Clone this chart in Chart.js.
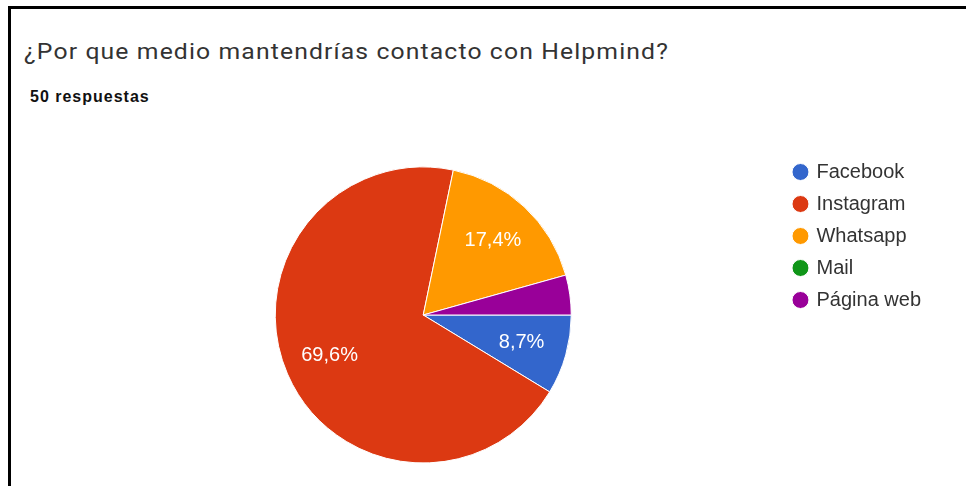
<!DOCTYPE html>
<html>
<head>
<meta charset="utf-8">
<script src="https://cdn.jsdelivr.net/npm/chart.js@4/dist/chart.umd.min.js"></script>
<style>
  html, body { margin: 0; padding: 0; background: #fff; }
  body { width: 966px; height: 486px; position: relative; overflow: hidden; }
  #frame { position: absolute; left: 8px; top: 6px; width: 990px; height: 520px; border-left: 3px solid #000; border-top: 3px solid #000; }
  #title { position: absolute; left: 24px; top: 39px; font-family: Roboto, "Open Sans", sans-serif; font-size: 22px; letter-spacing: 1px; color: #333; white-space: nowrap; transform: scaleX(1.124); transform-origin: left top; }
  #subtitle { position: absolute; left: 30px; top: 88px; font-family: "Liberation Sans", Arial, sans-serif; font-weight: bold; font-size: 16px; letter-spacing: 1px; color: #111; white-space: nowrap; }
  #wrap { position: absolute; left: 0; top: 0; width: 966px; height: 486px; }
</style>
</head>
<body>
<div id="frame"></div>
<div id="title">¿Por que medio mantendrías contacto con Helpmind?</div>
<div id="subtitle">50 respuestas</div>
<div id="wrap"><canvas id="pie"></canvas></div>
<script>
// datos del gráfico (respuestas por medio)
const categories = ['Facebook', 'Instagram', 'Whatsapp', 'Mail', 'Página web'];
const votes = [4, 32, 8, 0, 2];
const colors = ['#3366cc', '#dc3912', '#ff9900', '#109618', '#990099'];

// etiquetas de porcentaje dentro de cada porción
const percentLabels = {
    id: 'percentLabels',
    afterDatasetsDraw(chart) {
        const ctx = chart.ctx;
        const meta = chart.getDatasetMeta(0);
        const total = votes.reduce((a, b) => a + b, 0);
        ctx.save();
        ctx.fillStyle = '#fff';
        ctx.font = '20px "Liberation Sans", Arial, sans-serif';
        ctx.textAlign = 'center';
        ctx.textBaseline = 'middle';
        meta.data.forEach((arc, i) => {
            const pct = votes[i] / total * 100;
            if (pct < 5) return;
            const mid = (arc.startAngle + arc.endAngle) / 2;
            const r = arc.outerRadius * 0.69;
            const txt = pct.toFixed(1).replace('.', ',') + '%';
            ctx.fillText(txt, arc.x + Math.cos(mid) * r, arc.y + Math.sin(mid) * r);
        });
        ctx.restore();
    }
};

new Chart(document.getElementById('pie'), {
    type: 'pie',
    data: {
        labels: categories,
        datasets: [{
            data: votes,
            backgroundColor: colors,
            borderColor: '#fff',
            borderWidth: 1
        }]
    },
    plugins: [percentLabels],
    options: {
        responsive: true,
        maintainAspectRatio: false,
        animation: false,
        events: [],
        rotation: 90,
        radius: 148,
        layout: {
            padding: { left: 64, right: 35, top: 150, bottom: 6 }
        },
        plugins: {
            tooltip: { enabled: false },
            legend: {
                position: 'right',
                align: 'start',
                labels: {
                    usePointStyle: true,
                    pointStyle: 'circle',
                    boxWidth: 12,
                    boxHeight: 12,
                    padding: 12,
                    color: '#333',
                    font: { family: '"Liberation Sans", Arial, sans-serif', size: 20 }
                }
            }
        }
    }
});
</script>
</body>
</html>
